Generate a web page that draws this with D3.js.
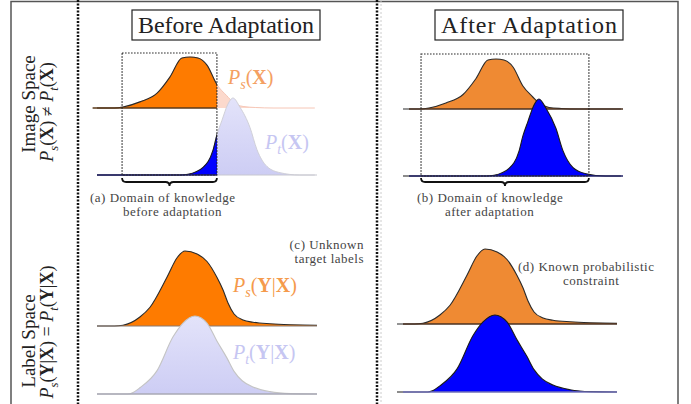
<!DOCTYPE html>
<html>
<head>
<meta charset="utf-8">
<title>Domain adaptation sketch</title>
<script src="https://d3js.org/d3.v7.min.js"></script>
<style>
  body { margin: 0; background: #fff; }
  svg text { font-family: "Liberation Serif", "DejaVu Serif", serif; }
</style>
</head>
<body>
<div id="chart"></div>
<script>
const width = 691, height = 404;

// densities: [position 0-100, relative height 0-1]
const sourceImage = [[0,0],[8,0],[11.8,0.02],[19.5,0.12],[27.3,0.29],[33.2,0.61],[38.6,0.98],[42.3,1],[45.9,0.98],[50,0.84],[54.5,0.46],[59,0.24],[62,0.11],[66.4,0.03],[72,0.01],[80,0],[99,0]];
const targetImage = [[0,0],[38,0],[41.4,0.01],[48.2,0.1],[52.7,0.32],[54.5,0.52],[56.8,0.71],[59.5,0.92],[61.8,1],[65,0.88],[69.5,0.62],[72.7,0.33],[77.3,0.11],[83.2,0.03],[92,0],[99,0]];
const sourceLabel = [[0,0],[8,0],[11.8,0.01],[19.5,0.12],[24.1,0.25],[31.8,0.65],[36.4,0.91],[40,1],[45.5,0.96],[50,0.86],[54.5,0.65],[57.3,0.48],[59.5,0.31],[62.3,0.16],[66.4,0.08],[70.9,0.05],[78.6,0.03],[100,0.01]];
const targetLabel = [[0,0],[14,0],[16.4,0.02],[19.5,0.08],[27.3,0.3],[34.5,0.73],[39.1,0.91],[44.5,1],[50,0.91],[54.5,0.68],[59.1,0.46],[62.3,0.29],[66,0.17],[70.9,0.09],[78.6,0.03],[88,0.005],[100,0]];

// domain of knowledge [from, to], same position units
const knownBefore = [11.4, 54.5];
const knownAfter = [8.2, 84.5];

const titles = ["Before Adaptation", "After Adaptation"];
const rowTitles = ["Image Space", "Label Space"];
const captions = {
  a: ["(a) Domain of knowledge", "before adaptation"],
  b: ["(b) Domain of knowledge", "after adaptation"],
  c: ["(c) Unknown", "target labels"],
  d: ["(d) Known probabilistic", "constraint"]
};

const svg = d3.select("#chart").append("svg")
  .attr("width", width).attr("height", height);

const defs = svg.append("defs");
const grad = defs.append("linearGradient").attr("id", "lav")
  .attr("x1", 0).attr("y1", 0).attr("x2", 0).attr("y2", 1);
grad.append("stop").attr("offset", "0%").attr("stop-color", "#e3e3fa");
grad.append("stop").attr("offset", "100%").attr("stop-color", "#cdcdf4");

// frame + separators
svg.append("path").attr("d", "M11,404V1.5H678V404")
  .attr("fill", "none").attr("stroke", "#555").attr("stroke-width", 1.5);
[78, 377].forEach(function (x) {
  svg.append("line").attr("x1", x).attr("x2", x).attr("y1", 0).attr("y2", height)
    .attr("stroke", "#111").attr("stroke-width", 2.5).attr("stroke-dasharray", "2,1.5");
});
svg.append("line").attr("x1", 381).attr("x2", 381).attr("y1", 0).attr("y2", height)
  .attr("stroke", "#ccc").attr("stroke-width", 1).attr("stroke-dasharray", "2,2");

// small helper for "P_s(X)" style labels
function mathText(sel, parts, fs) {
  parts.forEach(function (p, i) {
    const t = sel.append("tspan").text(p[0]);
    if (p[1] === "i") t.attr("font-style", "italic");
    if (p[1] === "b") t.attr("font-weight", "bold");
    if (p[1] === "sub") t.attr("font-size", fs * 0.7).attr("font-style", "italic").attr("dy", fs * 0.25);
    if (i > 0 && parts[i - 1][1] === "sub") t.attr("dy", -fs * 0.25);
  });
  return sel;
}
const PsX = [["P","i"],["s","sub"],["(",""],["X","b"],[")",""]];
const PtX = [["P","i"],["t","sub"],["(",""],["X","b"],[")",""]];
const PsYX = [["P","i"],["s","sub"],["(",""],["Y","b"],["|",""],["X","b"],[")",""]];
const PtYX = [["P","i"],["t","sub"],["(",""],["Y","b"],["|",""],["X","b"],[")",""]];

// column titles
[[132, 320, titles[0]], [435, 623, titles[1]]].forEach(function (t) {
  svg.append("rect").attr("x", t[0]).attr("y", 10).attr("width", t[1] - t[0]).attr("height", 30)
    .attr("fill", "none").attr("stroke", "#222").attr("stroke-width", 1.2);
  svg.append("text").attr("x", (t[0] + t[1]) / 2).attr("y", 33)
    .attr("text-anchor", "middle").attr("font-size", 24).attr("fill", "#222")
    .attr("textLength", t[1] - t[0] - 12).text(t[2]);
});

// row titles (rotated)
function rowTitle(cy, cy2, title, parts) {
  svg.append("text").attr("transform", "translate(35," + cy + ") rotate(-90)")
    .attr("text-anchor", "middle").attr("font-size", 19).attr("fill", "#222").text(title);
  mathText(svg.append("text").attr("transform", "translate(53," + cy2 + ") rotate(-90)")
    .attr("text-anchor", "middle").attr("font-size", 18).attr("fill", "#222"), parts, 18);
}
rowTitle(104, 112, rowTitles[0], [["P","i"],["s","sub"],["(",""],["X","b"],[") ≠ ",""],["P","i"],["t","sub"],["(",""],["X","b"],[")",""]]);
rowTitle(341, 332, rowTitles[1], [["P","i"],["s","sub"],["(",""],["Y","b"],["|",""],["X","b"],[") = ",""],["P","i"],["t","sub"],["(",""],["Y","b"],["|",""],["X","b"],[")",""]]);

function brace(x0, x1, y) {
  const r = 4, m = (x0 + x1) / 2;
  return "M" + x0 + "," + (y - r) + "Q" + x0 + "," + y + " " + (x0 + r) + "," + y +
    "H" + (m - r) + "Q" + m + "," + y + " " + m + "," + (y + r) +
    "Q" + m + "," + y + " " + (m + r) + "," + y +
    "H" + (x1 - r) + "Q" + x1 + "," + y + " " + x1 + "," + (y - r);
}

function caption(lines, x, y, anchor) {
  const t = svg.append("text").attr("font-size", 13).attr("fill", "#444")
    .attr("letter-spacing", 0.5).attr("text-anchor", anchor);
  lines.forEach(function (l, i) {
    t.append("tspan").attr("x", x[i]).attr("y", y + i * 13.5).text(l);
  });
}

const panels = [
  { id: "tl", range: [97, 317], src: sourceImage, tgt: targetImage, srcBase: 108, srcH: 51, tgtBase: 175, tgtH: 77,
    style: "before", known: knownBefore, rectTop: 53 },
  { id: "tr", range: [403, 623], src: sourceImage, tgt: targetImage, srcBase: 109, srcH: 50, tgtBase: 176, tgtH: 77,
    style: "after", known: knownAfter, rectTop: 54 },
  { id: "bl", range: [97, 317], src: sourceLabel, tgt: targetLabel, srcBase: 326, srcH: 75, tgtBase: 394, tgtH: 78,
    style: "before" },
  { id: "br", range: [397, 617], src: sourceLabel, tgt: targetLabel, srcBase: 324, srcH: 75, tgtBase: 392, tgtH: 77,
    style: "after" }
];

panels.forEach(function (p) {
  const g = svg.append("g");
  const x = d3.scaleLinear().domain([0, 100]).range(p.range);
  const ys = d3.scaleLinear().domain([0, 1]).range([p.srcBase, p.srcBase - p.srcH]);
  const yt = d3.scaleLinear().domain([0, 1]).range([p.tgtBase, p.tgtBase - p.tgtH]);

  const area = function (y, base) {
    return d3.area().curve(d3.curveMonotoneX).x(d => x(d[0])).y0(base).y1(d => y(d[1]));
  };
  const line = function (y) {
    return d3.line().curve(d3.curveMonotoneX).x(d => x(d[0])).y(d => y(d[1]));
  };

  let clip = null;
  if (p.known && p.style === "before") {
    clip = "clip-" + p.id;
    defs.append("clipPath").attr("id", clip).append("rect")
      .attr("x", 0).attr("y", 0).attr("width", x(p.known[1])).attr("height", height);
  }

  if (p.style === "before") {
    if (clip) {
      // faded parts outside the known domain
      g.append("path").datum(p.src).attr("d", area(ys, p.srcBase)).attr("fill", "#fcd9cc");
      g.append("path").datum(p.src).attr("d", line(ys)).attr("fill", "none").attr("stroke", "#f6c6b6");
      const s = g.append("g").attr("clip-path", "url(#" + clip + ")");
      s.append("path").datum(p.src).attr("d", area(ys, p.srcBase)).attr("fill", "#fe7b00");
      s.append("path").datum(p.src).attr("d", line(ys)).attr("fill", "none").attr("stroke", "#2a2a2a").attr("stroke-width", 1.1);
      s.append("line").attr("x1", x(p.src[1][0]) - 22).attr("x2", x(p.known[1])).attr("y1", p.srcBase).attr("y2", p.srcBase)
        .attr("stroke", "#5a3818").attr("stroke-width", 1.3);
      g.append("path").datum(p.tgt).attr("d", area(yt, p.tgtBase)).attr("fill", "url(#lav)");
      g.append("path").datum(p.tgt).attr("d", line(yt)).attr("fill", "none").attr("stroke", "#d0d0d8");
      g.append("line").attr("x1", x(p.known[1])).attr("x2", x(100)).attr("y1", p.tgtBase).attr("y2", p.tgtBase)
        .attr("stroke", "#c8c8d0").attr("stroke-width", 1.2);
      const t = g.append("g").attr("clip-path", "url(#" + clip + ")");
      t.append("path").datum(p.tgt).attr("d", area(yt, p.tgtBase)).attr("fill", "#0000ff");
      t.append("path").datum(p.tgt).attr("d", line(yt)).attr("fill", "none").attr("stroke", "#1a1a1a").attr("stroke-width", 1.1);
      t.append("line").attr("x1", x(0)).attr("x2", x(p.known[1])).attr("y1", p.tgtBase).attr("y2", p.tgtBase)
        .attr("stroke", "#222266").attr("stroke-width", 1.5);
    } else {
      g.append("path").datum(p.src).attr("d", area(ys, p.srcBase)).attr("fill", "#fe7b00");
      g.append("path").datum(p.src).attr("d", line(ys)).attr("fill", "none").attr("stroke", "#2a2a2a").attr("stroke-width", 1.1);
      g.append("line").attr("x1", x(0)).attr("x2", x(100)).attr("y1", p.srcBase).attr("y2", p.srcBase)
        .attr("stroke", "#8a7a70").attr("stroke-width", 1.2);
      g.append("path").datum(p.tgt).attr("d", area(yt, p.tgtBase)).attr("fill", "url(#lav)");
      g.append("path").datum(p.tgt).attr("d", line(yt)).attr("fill", "none").attr("stroke", "#c4c4c4").attr("stroke-width", 1.1);
      g.append("line").attr("x1", x(0)).attr("x2", x(100)).attr("y1", p.tgtBase).attr("y2", p.tgtBase)
        .attr("stroke", "#a8a8b4").attr("stroke-width", 1.5);
    }
  } else {
    g.append("path").datum(p.src).attr("d", area(ys, p.srcBase)).attr("fill", "#ef8a33");
    g.append("path").datum(p.src).attr("d", line(ys)).attr("fill", "none").attr("stroke", "#2a2a2a").attr("stroke-width", 1.1);
    g.append("line").attr("x1", x(0) + 6).attr("x2", x(100)).attr("y1", p.srcBase).attr("y2", p.srcBase)
      .attr("stroke", "#4a3020").attr("stroke-width", 1.3);
    g.append("path").datum(p.tgt).attr("d", area(yt, p.tgtBase)).attr("fill", "#0000ff");
    g.append("path").datum(p.tgt).attr("d", line(yt)).attr("fill", "none").attr("stroke", "#1a1a1a").attr("stroke-width", 1.1);
    g.append("line").attr("x1", x(0) + 6).attr("x2", x(100)).attr("y1", p.tgtBase).attr("y2", p.tgtBase)
      .attr("stroke", p.id === "br" ? "#7070b8" : "#222266").attr("stroke-width", 1.6);
  }

  if (p.known) {
    const x0 = x(p.known[0]), x1 = x(p.known[1]);
    g.append("rect").attr("x", x0).attr("y", p.rectTop).attr("width", x1 - x0).attr("height", p.tgtBase - p.rectTop)
      .attr("fill", "none").attr("stroke", "#222").attr("stroke-width", 1.2).attr("stroke-dasharray", "1.5,1.5");
    g.append("path").attr("d", brace(x0, x1, 182)).attr("fill", "none")
      .attr("stroke", "#111").attr("stroke-width", 1.8);
  }
});

// curve labels
mathText(svg.append("text").attr("x", 228).attr("y", 84).attr("font-size", 20).attr("fill", "#f4a062"), PsX, 20);
mathText(svg.append("text").attr("x", 265).attr("y", 149).attr("font-size", 20).attr("fill", "#c6c6f2"), PtX, 20);
mathText(svg.append("text").attr("x", 233).attr("y", 292).attr("font-size", 20).attr("fill", "#f59a4c"), PsYX, 20);
mathText(svg.append("text").attr("x", 233).attr("y", 359).attr("font-size", 20).attr("fill", "#c6c6f2"), PtYX, 20);

// captions
caption(captions.a, [90, 123], 202, "start");
caption(captions.b, [417, 445], 202, "start");
caption(captions.c, [364, 364], 249, "end");
caption(captions.d, [518, 563], 271, "start");
</script>
</body>
</html>
